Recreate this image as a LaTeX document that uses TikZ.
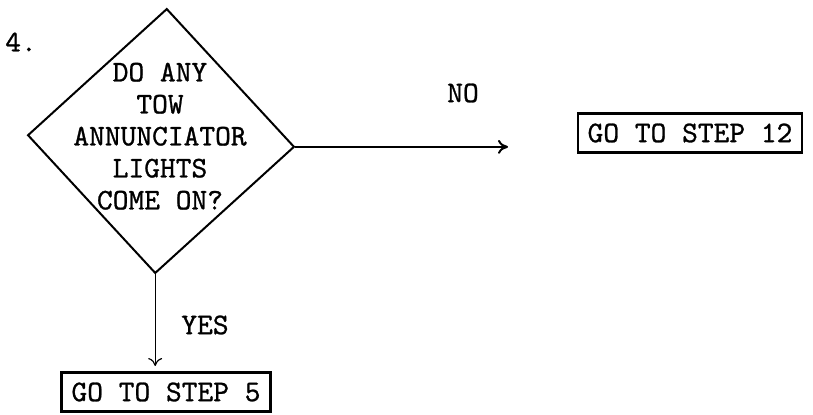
\documentclass[tikz,border=0pt]{standalone}
\usepackage{fontspec}
\usepackage{tikz}
\usetikzlibrary{positioning, arrows.meta, shapes.geometric}
\newfontfamily\typefont{lmmono10-regular.otf}[FakeBold=0.9]

\begin{document}
\begin{tikzpicture}[x=0.5pt, y=-0.5pt,
      every node/.style={font=\typefont\fontsize{15}{16}\selectfont, text=black},
      decision/.style={diamond, draw, line width=1pt, minimum width=133.5pt, minimum height=132.5pt, inner sep=0pt, rotate=-2.5},
      stepbox/.style={rectangle, draw, line width=1.1pt, inner xsep=5pt, minimum height=19.5pt}
    ]
      \useasboundingbox (0,0) rectangle (813,414);

      \node (num) at (21,42) {4.};
      \node[decision] (q) at (161,141) {};
      \node[inner sep=0pt] (qtext) at (160,139) {\baselineskip=15.8pt
        \begin{tabular}{@{}c@{}}DO ANY\\TOW\\ANNUNCIATOR\\LIGHTS\\COME ON?\end{tabular}};

      \node[stepbox] (s12) at (690,133) {GO TO STEP 12};
      \node[stepbox] (s5) at (166,392) {GO TO STEP 5};

      \coordinate (noend) at (508,147);
      \coordinate (yesend) at (155,366);

      \draw[-{To[length=5pt,width=7pt]}, line width=1pt] (q.east) -- (q.east -| noend);
      \draw[-{To[length=4pt,width=7pt]}, line width=0.6pt] (q.south) -- (q.south |- yesend);

      \node (no) at (463,93) {NO};
      \node (yes) at (205,325) {YES};
    \end{tikzpicture}
\end{document}
